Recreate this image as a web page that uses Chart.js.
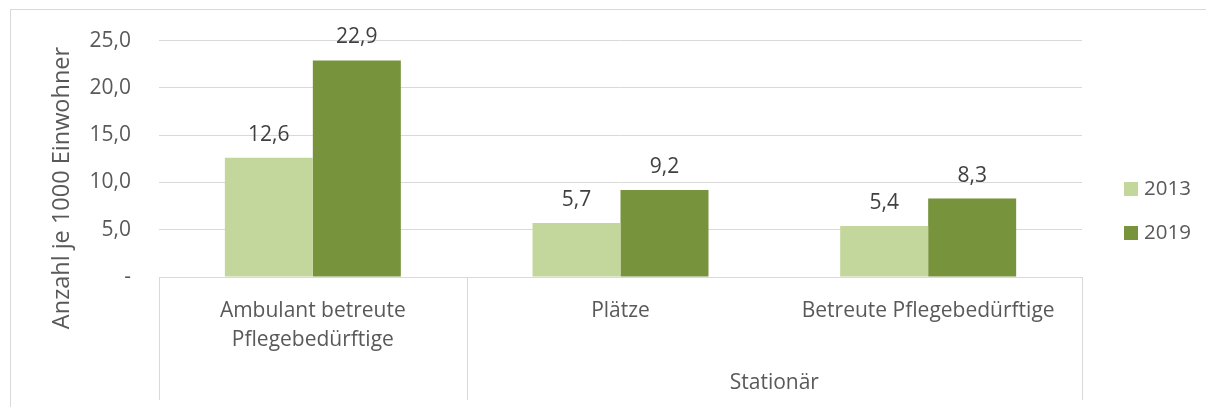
<!DOCTYPE html>
<html>
<head>
<meta charset="utf-8">
<script src="https://cdn.jsdelivr.net/npm/chart.js@4.4.1/dist/chart.umd.min.js"></script>
<style>
    html, body { margin: 0; padding: 0; background: #ffffff; }
    #wrap { width: 1206px; height: 407px; }
</style>
</head>
<body>
<div id="wrap"><canvas id="pflege-chart" width="1206" height="407"></canvas></div>
<script>
const categories = [['Ambulant betreute', 'Pflegebedürftige'], 'Plätze', 'Betreute Pflegebedürftige'];
const groupLabel = 'Stationär';
const values2013 = [12.6, 5.7, 5.4];
const values2019 = [22.9, 9.2, 8.3];
const yTickLabels = ['-', '5,0', '10,0', '15,0', '20,0', '25,0'];
const yTitle = 'Anzahl je 1000 Einwohner';

const fontFamily = '"Open Sans", "Noto Sans", sans-serif';
const textColor = '#595959';
const gridColor = '#d9d9d9';

// rahmen, achsentitel, gruppen, werte und legende
const extras = {
    id: 'extras',
    beforeDraw(chart) {
        const ctx = chart.ctx;
        ctx.save();
        ctx.strokeStyle = gridColor;
        ctx.lineWidth = 1;
        ctx.strokeRect(10.5, 9.5, chart.width, chart.height);
        ctx.restore();
    },
    afterDraw(chart) {
        const ctx = chart.ctx;
        const x = chart.scales.x;
        const area = chart.chartArea;
        ctx.save();

        // trennlinien unter der achse
        const p0 = x.getPixelForValue(0);
        const p1 = x.getPixelForValue(1);
        const p2 = x.getPixelForValue(2);
        ctx.strokeStyle = gridColor;
        ctx.lineWidth = 1;
        [area.left, (p0 + p1) / 2, area.right].forEach(px => {
            ctx.beginPath();
            ctx.moveTo(Math.round(px) + 0.5, area.bottom);
            ctx.lineTo(Math.round(px) + 0.5, 400);
            ctx.stroke();
        });

        // gruppenbeschriftung
        ctx.fillStyle = textColor;
        ctx.font = '21px ' + fontFamily;
        ctx.textAlign = 'center';
        ctx.textBaseline = 'middle';
        ctx.fillText(groupLabel, (p1 + p2) / 2, 383);

        // achsentitel
        ctx.save();
        ctx.translate(62, 188);
        ctx.rotate(-Math.PI / 2);
        ctx.font = '23.5px ' + fontFamily;
        ctx.fillText(yTitle, 0, 0);
        ctx.restore();

        // datenbeschriftung
        ctx.fillStyle = '#404040';
        ctx.font = '21px ' + fontFamily;
        ctx.textBaseline = 'alphabetic';
        chart.data.datasets.forEach((ds, i) => {
            chart.getDatasetMeta(i).data.forEach((bar, j) => {
                ctx.fillText(ds.data[j].toFixed(1).replace('.', ','), bar.x, bar.y - 17);
            });
        });

        // legende
        ctx.font = '20.5px ' + fontFamily;
        ctx.textAlign = 'left';
        ctx.textBaseline = 'middle';
        chart.data.datasets.forEach((ds, i) => {
            const cy = 189 + i * 44;
            ctx.fillStyle = ds.backgroundColor;
            ctx.fillRect(1124, cy - 7, 14, 14);
            ctx.fillStyle = textColor;
            ctx.fillText(ds.label, 1144, cy);
        });

        ctx.restore();
    }
};

document.addEventListener('DOMContentLoaded', () => {
    const canvas = document.getElementById('pflege-chart');
    new Chart(canvas, {
        type: 'bar',
        data: {
            labels: categories,
            datasets: [
                {
                    label: '2013',
                    data: values2013,
                    backgroundColor: '#c3d69b',
                    categoryPercentage: 0.572,
                    barPercentage: 1
                },
                {
                    label: '2019',
                    data: values2019,
                    backgroundColor: '#77933c',
                    categoryPercentage: 0.572,
                    barPercentage: 1
                }
            ]
        },
        options: {
            responsive: false,
            animation: false,
            layout: {
                padding: { top: 39, right: 124, bottom: 0, left: 0 }
            },
            plugins: {
                legend: { display: false },
                tooltip: { enabled: false }
            },
            scales: {
                x: {
                    grid: { display: false },
                    border: { display: false },
                    ticks: {
                        color: textColor,
                        padding: 12,
                        maxRotation: 0,
                        autoSkip: false,
                        font: { family: fontFamily, size: 21, lineHeight: 1.35 }
                    },
                    afterFit: s => { s.height = 130; }
                },
                y: {
                    min: 0,
                    max: 25,
                    grid: { color: gridColor, drawTicks: false },
                    border: { display: false },
                    ticks: {
                        stepSize: 5,
                        padding: 28,
                        color: textColor,
                        font: { family: fontFamily, size: 21 },
                        callback: (value, index) => yTickLabels[index]
                    },
                    afterFit: s => { s.width = 159; }
                }
            }
        },
        plugins: [extras]
    });
});
</script>
</body>
</html>
